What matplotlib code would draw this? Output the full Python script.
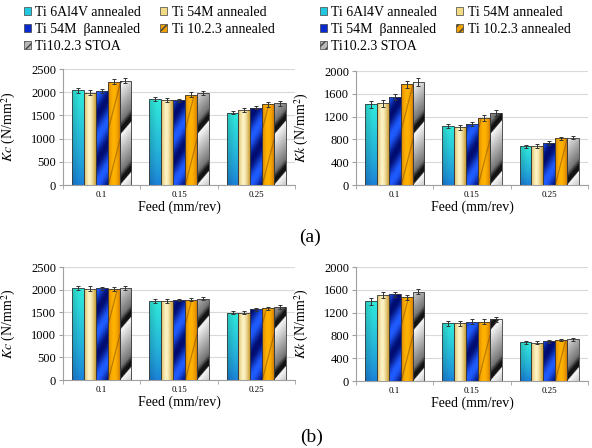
import numpy as np
import matplotlib
matplotlib.use('Agg')
import matplotlib.pyplot as plt
from matplotlib.patches import Rectangle
from matplotlib.colors import to_rgb

plt.rcParams['font.family'] = ['Liberation Serif', 'DejaVu Serif']
plt.rcParams['mathtext.fontset'] = 'stix'

# ---------------- data ----------------
feeds = ['0.1', '0.15', '0.25']
materials = ['Ti 6Al4V annealed', 'Ti 54M annealed', 'Ti 54M  βannealed',
             'Ti 10.2.3 annealed', 'Ti10.2.3 STOA']

# (a) panels: one row per material, one value per feed
kc_a = [[2040, 1850, 1560],
        [1990, 1830, 1620],
        [2020, 1825, 1670],
        [2230, 1950, 1740],
        [2250, 1985, 1760]]
kc_a_err = [[50, 40, 40], [50, 40, 40], [40, 30, 30], [60, 60, 50], [60, 50, 50]]

kk_a = [[1415, 1035, 680],
        [1430, 1010, 685],
        [1540, 1070, 740],
        [1770, 1170, 820],
        [1810, 1265, 830]]
kk_a_err = [[60, 40, 30], [60, 40, 30], [50, 40, 30], [60, 50, 30], [70, 50, 30]]

# (b) panels
kc_b = [[2035, 1748, 1490],
        [2020, 1745, 1490],
        [2025, 1770, 1560],
        [2015, 1778, 1585],
        [2035, 1800, 1615]]
kc_b_err = [[50, 40, 30], [50, 40, 30], [30, 30, 30], [40, 40, 40], [50, 40, 40]]

kk_b = [[1400, 1012, 680],
        [1505, 1012, 675],
        [1520, 1040, 700],
        [1465, 1040, 718],
        [1570, 1080, 735]]
kk_b_err = [[60, 40, 25], [50, 40, 25], [50, 40, 25], [50, 40, 25], [50, 40, 25]]

# ---------------- styles ----------------
legend_colors = ['#22c8e0', '#f3da85', '#0a2ad0', '#f0a000', '#b8b8b8']
legend_hatch = [None, None, None, '////', '////']


def lerp(c0, c1, t):
    c0 = np.array(to_rgb(c0))
    c1 = np.array(to_rgb(c1))
    t = np.clip(t, 0, 1)[..., None]
    return c0 * (1 - t) + c1 * t


def bar_pattern(kind, w_px, h_px, sc=3):
    nw = max(int(w_px * sc), 2)
    nh = max(int(h_px * sc), 2)
    X, Yd = np.meshgrid((np.arange(nw) + 0.5) / sc, (np.arange(nh) + 0.5) / sc)
    hh = nh / sc
    Y = hh - Yd  # pixels from bottom
    s = X / (nw / sc)
    if kind == 0:  # cyan vertical gradient
        t = Y / hh
        img = lerp('#1a7ed8', '#30eadb', t ** 0.8)
        img *= (0.85 + 0.15 * np.clip(s * 1.5, 0, 1))[..., None]
    elif kind == 1:  # yellow horizontal gradient
        f = 1 - np.abs(2 * s - 0.9) ** 1.5
        img = lerp('#cfa640', '#fdf4c6', f)
    elif kind == 2:  # blue diagonal bands
        ph = ((X * 1.6 - Y) / 45.0) % 1.0
        f = 0.5 + 0.5 * np.cos(2 * np.pi * ph)
        img = lerp('#000c70', '#1f5cff', f)
    elif kind == 3:  # orange with diagonal stripes
        f = 1 - np.abs(2 * s - 1) ** 2
        img = lerp('#d07a00', '#ffb200', f)
        ph = ((X * 4.0 - Y) / 55.0) % 1.0
        mask = ph < 0.05
        img[mask] = lerp('#f0a000', '#6a3c00', np.full(mask.sum(), 0.8))
    else:  # STOA grey bands
        ph = ((X * 1.2 - Y) / 50.0) % 1.0
        g = np.where(ph < 0.75, 1.0 - 0.55 * ph / 0.75,
                     np.where(ph < 0.9, 0.45 - 0.45 * (ph - 0.75) / 0.15, 0.05))
        img = np.stack([g, g, g], axis=-1) * 0.95 + 0.03
    return np.clip(img, 0, 1)


fig = plt.figure(figsize=(5.92, 4.48), dpi=100)
W, H = 592.0, 448.0


def ax_at(left, top, right, bottom):
    return fig.add_axes([left / W, 1 - bottom / H, (right - left) / W, (bottom - top) / H])


panels = [
    (ax_at(63, 69, 295, 185), kc_a, kc_a_err, 2500, 500, r'$Kc$ (N/mm$^{2}$)'),
    (ax_at(356, 71, 588, 185), kk_a, kk_a_err, 2000, 400, r'$Kk$ (N/mm$^{2}$)'),
    (ax_at(63, 267, 295, 380), kc_b, kc_b_err, 2500, 500, r'$Kc$ (N/mm$^{2}$)'),
    (ax_at(356, 267, 588, 381), kk_b, kk_b_err, 2000, 400, r'$Kk$ (N/mm$^{2}$)'),
]

x = np.arange(len(feeds))
bw = 0.154

for ax, vals, errs, ymax, ystep, ylab in panels:
    ax.set_xlim(-0.5, len(feeds) - 0.5)
    ax.set_ylim(0, ymax)
    bbox = ax.get_position()
    ax_h_px = bbox.height * H
    ax_w_px = bbox.width * W
    for i in range(len(materials)):
        xi = x + (i - 2) * bw
        bars = ax.bar(xi, vals[i], width=bw, facecolor='none',
                      edgecolor='#3a3a3a', linewidth=0.6, zorder=3)
        for rect in bars:
            x0 = rect.get_x()
            h = rect.get_height()
            wpx = bw / 3.0 * ax_w_px
            hpx = h / ymax * ax_h_px
            img = bar_pattern(i, wpx, hpx)
            im = ax.imshow(img, extent=(x0, x0 + bw, 0, h), aspect='auto',
                           interpolation='bilinear', zorder=2)
            im.set_clip_path(rect)
        ax.errorbar(xi, vals[i], yerr=errs[i], fmt='none', ecolor='#333333',
                    elinewidth=0.7, capsize=1.5, capthick=0.7, zorder=4)
    ax.set_xlim(-0.5, len(feeds) - 0.5)
    ax.set_ylim(0, ymax)
    ax.set_yticks(np.arange(0, ymax + 1, ystep))
    ax.set_xticks(x)
    ax.set_xticklabels(feeds, fontsize=6.5)
    ax.set_xticks(np.arange(-0.5, len(feeds), 1.0), minor=True)
    ax.tick_params(axis='x', which='major', length=0, pad=4)
    ax.tick_params(axis='x', which='minor', length=3, color='#a0a0a0')
    ax.tick_params(axis='y', length=3, color='#a0a0a0', labelsize=9, pad=2)
    for sp in ['top', 'right']:
        ax.spines[sp].set_visible(False)
    for sp in ['left', 'bottom']:
        ax.spines[sp].set_color('#a0a0a0')
        ax.spines[sp].set_linewidth(0.8)
    ax.yaxis.grid(True, color='#d9d9d9', linewidth=0.8)
    ax.set_axisbelow(True)
    ax.set_ylabel(ylab, fontsize=10)
    ax.yaxis.set_label_coords(-0.195, 0.5)
    ax.set_xlabel('Feed (mm/rev)', fontsize=10)
    ax.xaxis.set_label_coords(0.5, -0.195)
    ax.xaxis.label.set_verticalalignment('center')

# legends (top row)
order = [0, 2, 4, 1, 3]
handles = [Rectangle((0, 0), 1, 1, facecolor=legend_colors[k], edgecolor='#404040',
                     linewidth=0.5, hatch=legend_hatch[k]) for k in order]
labels = [materials[k] for k in order]
for lx in (24, 320):
    fig.legend(handles, labels, ncol=2, loc='upper left',
               bbox_to_anchor=(lx / W, 1 - 6 / H), frameon=False, fontsize=10,
               borderpad=0, borderaxespad=0, handlelength=0.5, handleheight=0.5,
               handletextpad=0.3, labelspacing=0.3, columnspacing=1.4)

fig.text(310 / W, 1 - 237 / H, '(a)', fontsize=14, ha='center', va='center')
fig.text(312 / W, 1 - 437 / H, '(b)', fontsize=14, ha='center', va='center')

fig.savefig('out.png', dpi=100, facecolor='white')
